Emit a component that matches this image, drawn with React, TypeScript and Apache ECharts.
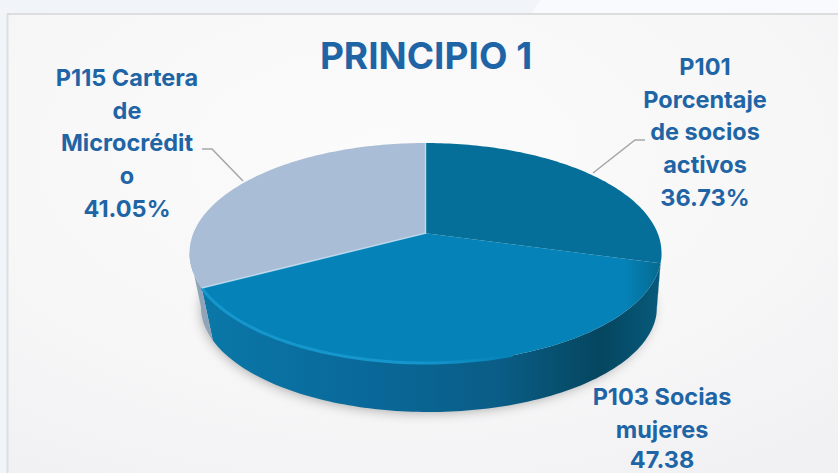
import React, { useEffect, useRef } from "react";
import * as echarts from "echarts";

const categories = ["P101 Porcentaje de socios activos", "P103 Socias mujeres", "P115 Cartera de Microcrédito"];
const values = [36.73, 47.38, 41.05];
const labelTexts = [
  "P101\nPorcentaje\nde socios\nactivos\n36.73%",
  "P103 Socias\nmujeres",
  "P115 Cartera\nde\nMicrocrédit\no\n41.05%",
];
const bottomValueLabel = "47.38";
const chartTitle = "PRINCIPIO 1";

const TOP_COLORS = ["#056f99", "#0583b8", "#a9bdd6"];
const BLUE = "#1f65a6";
const CX = 425.5, CY = 253, RX = 236, RY = 110, A = -0.18;
const BCX = 429, BCY = 307, BRX = 228, BRY = 105;
const total = values.reduce((s, v) => s + v, 0);

// disc angle (clockwise from the top) -> point of the perspective ellipse
function project(theta: number, r = 1) {
  const x = r * Math.sin(theta), y = -r * Math.cos(theta);
  const d = 1 + A * y;
  return [CX + (RX * x * Math.sqrt(1 - A * A)) / d, CY + (RY * (y + A)) / d];
}
function arc(a: number, b: number) {
  const n = Math.max(2, Math.ceil(Math.abs(b - a) / 0.02));
  const pts: number[][] = [];
  for (let i = 0; i <= n; i++) pts.push(project(a + ((b - a) * i) / n));
  return pts;
}
function toBottom(p: number[]) {
  return [BCX + ((p[0] - CX) * BRX) / RX, BCY + ((p[1] - CY) * BRY) / RY];
}
// angle of the ellipse's widest points: the wall is visible below them
const SIDE = Math.acos(A);

function hGradient(stops: [number, string][]) {
  return new echarts.graphic.LinearGradient(0, 0, 1, 0, stops.map(([offset, color]) => ({ offset, color })), false);
}

function renderItem(params: any, api: any) {
  const i = params.dataIndex;
  const start = api.value(0), end = api.value(1);
  const a = (start / total) * 2 * Math.PI, b = ((start + end) / total) * 2 * Math.PI;
  const apex = project(0, 0);
  const children: any[] = [];

  // wall
  const wa = Math.max(a, SIDE), wb = Math.min(b, 2 * Math.PI - SIDE);
  if (wb > wa) {
    const rim = arc(wa, wb);
    const pts = rim.concat(rim.slice().reverse().map(toBottom));
    children.push({
      type: "polygon",
      z2: 1,
      shape: { points: pts },
      style: {
        fill:
          i === 2
            ? "#8fa3b9"
            : i === 0
            ? "#07506f"
            : hGradient([
                [0, "#0a78a8"],
                [0.35, "#09699a"],
                [0.65, "#0a5d86"],
                [0.87, "#05465f"],
                [1, "#075a7c"],
              ]),
      },
    });
  }

  // top
  children.push({
    type: "polygon",
    z2: 2,
    shape: { points: [apex].concat(arc(a, b)) },
    style: {
      fill:
        i === 1
          ? hGradient([
              [0, TOP_COLORS[1]],
              [0.92, TOP_COLORS[1]],
              [1, "#056a92"],
            ])
          : TOP_COLORS[i],
    },
  });

  // highlights
  if (i === 1) {
    children.push({
      type: "polyline",
      z2: 4,
      shape: { points: arc(Math.PI * 0.9, b) },
      style: {
        stroke: hGradient([
          [0, "#1596cc"],
          [0.7, "#1596cc"],
          [1, "#0583b8"],
        ]),
        lineWidth: 3,
        fill: "none",
      },
    });
  }
  if (i === 2) {
    children.push({
      type: "polyline",
      z2: 4,
      shape: { points: [project(a), apex, project(b)] },
      style: { stroke: "#c6e0f2", lineWidth: 1.5, fill: "none", opacity: 0.8 },
    });
  }
  return { type: "group", children };
}

export default function App() {
  const ref = useRef<HTMLDivElement>(null);
  useEffect(() => {
    const chart = echarts.init(ref.current!, null, { renderer: "svg" });
    let acc = 0;
    const data = values.map((v, i) => {
      const item = { name: categories[i], value: [acc, v] };
      acc += v;
      return item;
    });
    const labelStyle = (x: number, y: number, text: string, lineHeight = 32.7) => ({
      type: "text",
      x,
      y,
      z: 20,
      style: {
        text,
        fill: BLUE,
        fontFamily: "Inter",
        fontSize: 23.5,
        fontWeight: 700,
        lineHeight,
        align: "center",
        verticalAlign: "top",
      },
    });
    chart.setOption({
      animation: false,
      backgroundColor: "#f1f5fa",
      graphic: [
        { type: "polygon", z: 0, shape: { points: [[540, 0], [838, 0], [838, 13], [532, 13]] }, style: { fill: "#f8fafd" } },
        {
          type: "rect",
          z: 1,
          shape: { x: 7.5, y: 14, width: 840, height: 470 },
          style: {
            stroke: "#dcdddf",
            lineWidth: 2,
            fill: new echarts.graphic.RadialGradient(0.45, 0.3, 0.8, [
              { offset: 0, color: "#fbfbfc" },
              { offset: 0.6, color: "#f7f7f8" },
              { offset: 1, color: "#f1f1f3" },
            ]),
          },
        },
        {
          type: "text",
          x: 426,
          y: 37,
          z: 20,
          style: {
            text: chartTitle,
            fill: BLUE,
            fontFamily: "Inter",
            fontSize: 37,
            fontWeight: 700,
            align: "center",
            verticalAlign: "top",
          },
        },
        {
          type: "ellipse",
          z: 2,
          shape: { cx: BCX, cy: BCY, rx: BRX - 2, ry: BRY - 1 },
          style: { fill: "#e4e4e6", shadowBlur: 12, shadowColor: "rgba(0,0,0,0.3)", shadowOffsetX: -2, shadowOffsetY: 2 },
        },
        labelStyle(705, 50, labelTexts[0]),
        labelStyle(662, 380, labelTexts[1]),
        labelStyle(662, 449, bottomValueLabel, 21),
        labelStyle(127, 61, labelTexts[2]),
        {
          type: "polyline",
          z: 19,
          shape: { points: [[645, 140], [635, 140], [593, 173]] },
          style: { stroke: "#a6a6a6", lineWidth: 1.5, fill: "none" },
        },
        {
          type: "polyline",
          z: 19,
          shape: { points: [[202, 149], [212, 149], [243, 181]] },
          style: { stroke: "#a6a6a6", lineWidth: 1.5, fill: "none" },
        },
      ],
      series: [{ type: "custom", coordinateSystem: "none", z: 10, renderItem, data, silent: true }],
    });
    return () => chart.dispose();
  }, []);
  return <div ref={ref} style={{ position: "fixed", left: 0, top: 0, width: 838, height: 473 }} />;
}
